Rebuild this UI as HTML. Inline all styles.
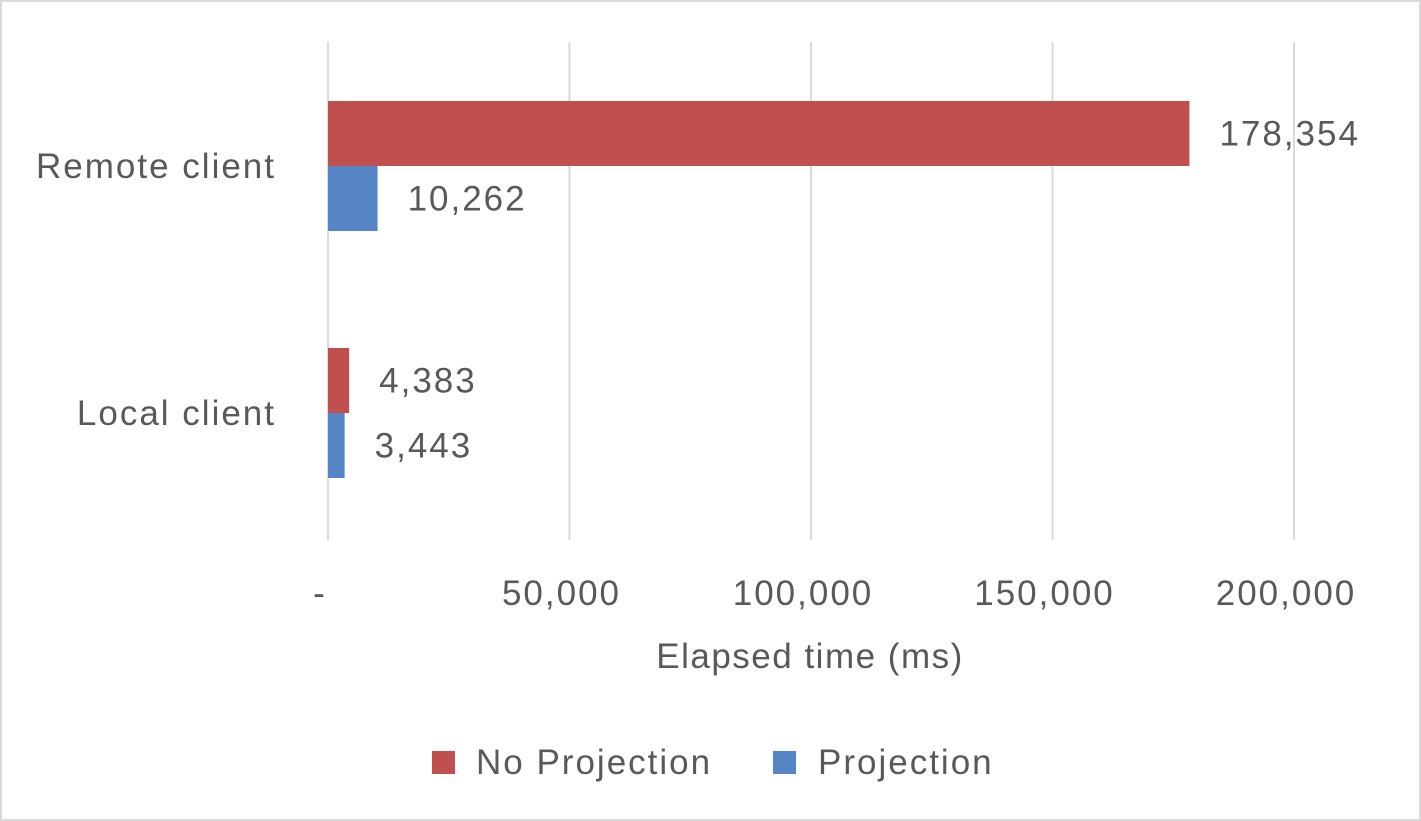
<!DOCTYPE html>
<html><head><meta charset="utf-8"><style>
html,body{margin:0;padding:0;background:#fff;}
svg{display:block;font-family:"Liberation Sans","DejaVu Sans",sans-serif;}
text{letter-spacing:2px;}
</style></head><body>
<svg id="chart" width="1421" height="821" viewBox="0 0 1421 821">
<rect x="1" y="1" width="1419" height="819" fill="#fff" stroke="#d9d9d9" stroke-width="2"/>
<g id="grid"></g>
<g id="bars"></g>
<g id="labels"></g>
<text x="810" y="668" text-anchor="middle" font-size="35" fill="#595959" style="letter-spacing:1.5px">Elapsed time (ms)</text>
<g>
<g>
<rect x="432" y="751" width="23" height="23" fill="#c0504d"/>
<text x="476" y="774" font-size="35" fill="#595959">No Projection</text>
</g>
<g>
<rect x="773" y="751" width="23" height="23" fill="#5585c4"/>
<text x="818" y="774" font-size="35" fill="#595959">Projection</text>
</g>
</g>
</svg>
<script>
const categories = ["Remote client", "Local client"];
const noProjection = [178354, 4383];
const projection = [10262, 3443];
const ticks = [0, 50000, 100000, 150000, 200000];
const tickLabels = ["-", "50,000", "100,000", "150,000", "200,000"];

const NS = "http://www.w3.org/2000/svg";
const x0 = 328, pxPer = (1294 - 328) / 200000;
const xs = v => x0 + v * pxPer;
const catCenter = [166, 413];
const barH = 65;
const fmt = v => v.toLocaleString("en-US");
function mk(tag, attrs, parent) {
  const e = document.createElementNS(NS, tag);
  for (const k in attrs) e.setAttribute(k, attrs[k]);
  parent.appendChild(e);
  return e;
}
const grid = document.getElementById("grid");
const bars = document.getElementById("bars");
const labels = document.getElementById("labels");
ticks.forEach((t, i) => {
  const l = mk("line", {x1: xs(t), x2: xs(t), y1: 42, y2: 540, stroke: "#d9d9d9", "stroke-width": 2}, grid);
  
  
  const tx = mk("text", {x: xs(t) - 8, y: 605, "text-anchor": "middle", "font-size": 35, fill: "#595959"}, labels);
  tx.textContent = tickLabels[i];
  
  
});
categories.forEach((c, i) => {
  const cy = catCenter[i];
  const ct = mk("text", {x: 276, y: cy + 12, "text-anchor": "end", "font-size": 35, fill: "#595959"}, labels);
  ct.textContent = c;
  
  
  [[noProjection, "#c0504d", cy - barH, "bar-no-projection"], [projection, "#5585c4", cy, "bar-projection"]].forEach(([arr, col, y, nm]) => {
    const v = arr[i];
    const r = mk("rect", {x: x0, y: y, width: xs(v) - x0, height: barH, fill: col}, bars);
    
    
    const vt = mk("text", {x: xs(v) + 30, y: y + barH / 2 + 12, "font-size": 35, fill: "#595959"}, labels);
    vt.textContent = fmt(v);
    
    
  });
});
</script>
</body></html>
